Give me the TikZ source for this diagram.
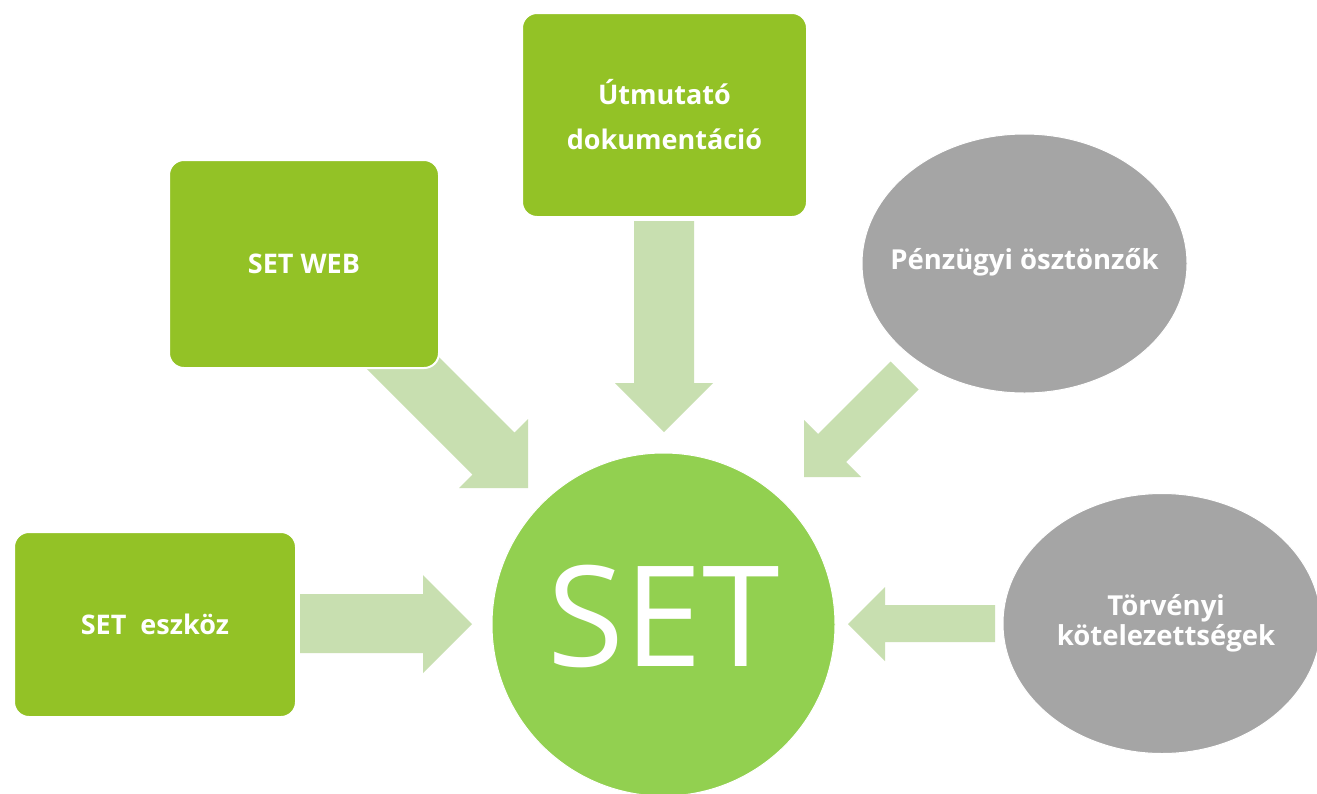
\documentclass[tikz,border=0pt]{standalone}
\usepackage{fontspec}
\setmainfont{Open Sans}
\usetikzlibrary{shapes.geometric}
\definecolor{boxgreen}{RGB}{147,194,38}
\definecolor{circgreen}{RGB}{146,208,80}
\definecolor{flowgreen}{RGB}{200,223,176}
\definecolor{ovalgray}{RGB}{165,165,165}
\tikzset{
  flow/.style={fill=flowgreen, draw=none},
  greenbox/.style={rectangle, rounded corners=15pt, fill=boxgreen, draw=white, line width=2pt,
    inner sep=0pt, text=white, font=\bfseries\fontsize{27}{45}\selectfont, align=center},
  grayoval/.style={ellipse, fill=ovalgray, draw=white, line width=1pt, inner sep=0pt},
  ovaltext/.style={inner sep=0pt, text=white, font=\bfseries\fontsize{27.5}{30}\selectfont, align=center},
  hub/.style={circle, fill=circgreen, draw=white, line width=1pt, inner sep=0pt},
  bigtext/.style={text=white, font=\fontsize{140}{140}\selectfont, inner sep=0pt}
}
\begin{document}
\begin{tikzpicture}[x=1pt,y=-1pt]
\useasboundingbox (0,0) rectangle (1317,793);
\fill[white] (0,0) rectangle (1317,793);
% block arrows
\fill[flow] (300,594) -- (423,594) -- (423,575) -- (472,624) -- (423,673) -- (423,653) -- (300,653) -- cycle;
\fill[flow] (634,221) -- (694,221) -- (694,383) -- (713,383) -- (664,432) -- (615,383) -- (634,383) -- cycle;
\fill[flow] (995,605) -- (885,605) -- (885,587) -- (848,624) -- (885,661) -- (885,642) -- (995,642) -- cycle;
\fill[flow] (359,361) -- (401,319) -- (514.5,432.5) -- (528,419) -- (528,488) -- (459,488) -- (472.5,474.5) -- cycle;
\fill[flow] (890.5,361.5) -- (918.5,389.5) -- (846,462) -- (861,477) -- (804,477) -- (804,420) -- (818,434) -- cycle;
% nodes
\node[greenbox, minimum width=270pt, minimum height=208pt] (web) at (304,264) {SET WEB};
\node[greenbox, minimum width=285pt, minimum height=204pt] (doc) at (664.5,115) {Útmutató\\dokumentáció};
\node[greenbox, minimum width=282pt, minimum height=185pt] (tool) at (155,624.5) {SET~~eszköz};
\node[grayoval, minimum width=325pt, minimum height=259pt] (fin) at (1024.5,263.5) {};
\node[ovaltext] (fintext) at ([yshift=1pt]fin.center) {Pénzügyi ösztönzők};
\node[grayoval, minimum width=318pt, minimum height=260pt] (law) at (1162,623.5) {};
\node[ovaltext] (lawtext) at ([xshift=4pt]law.center) {Törvényi\\kötelezettségek};
\node[hub, minimum size=343pt] (set) at (663.5,624.5) {};
\node[bigtext] (settext) at ([yshift=8pt]set.center) {SET};
\end{tikzpicture}
\end{document}
